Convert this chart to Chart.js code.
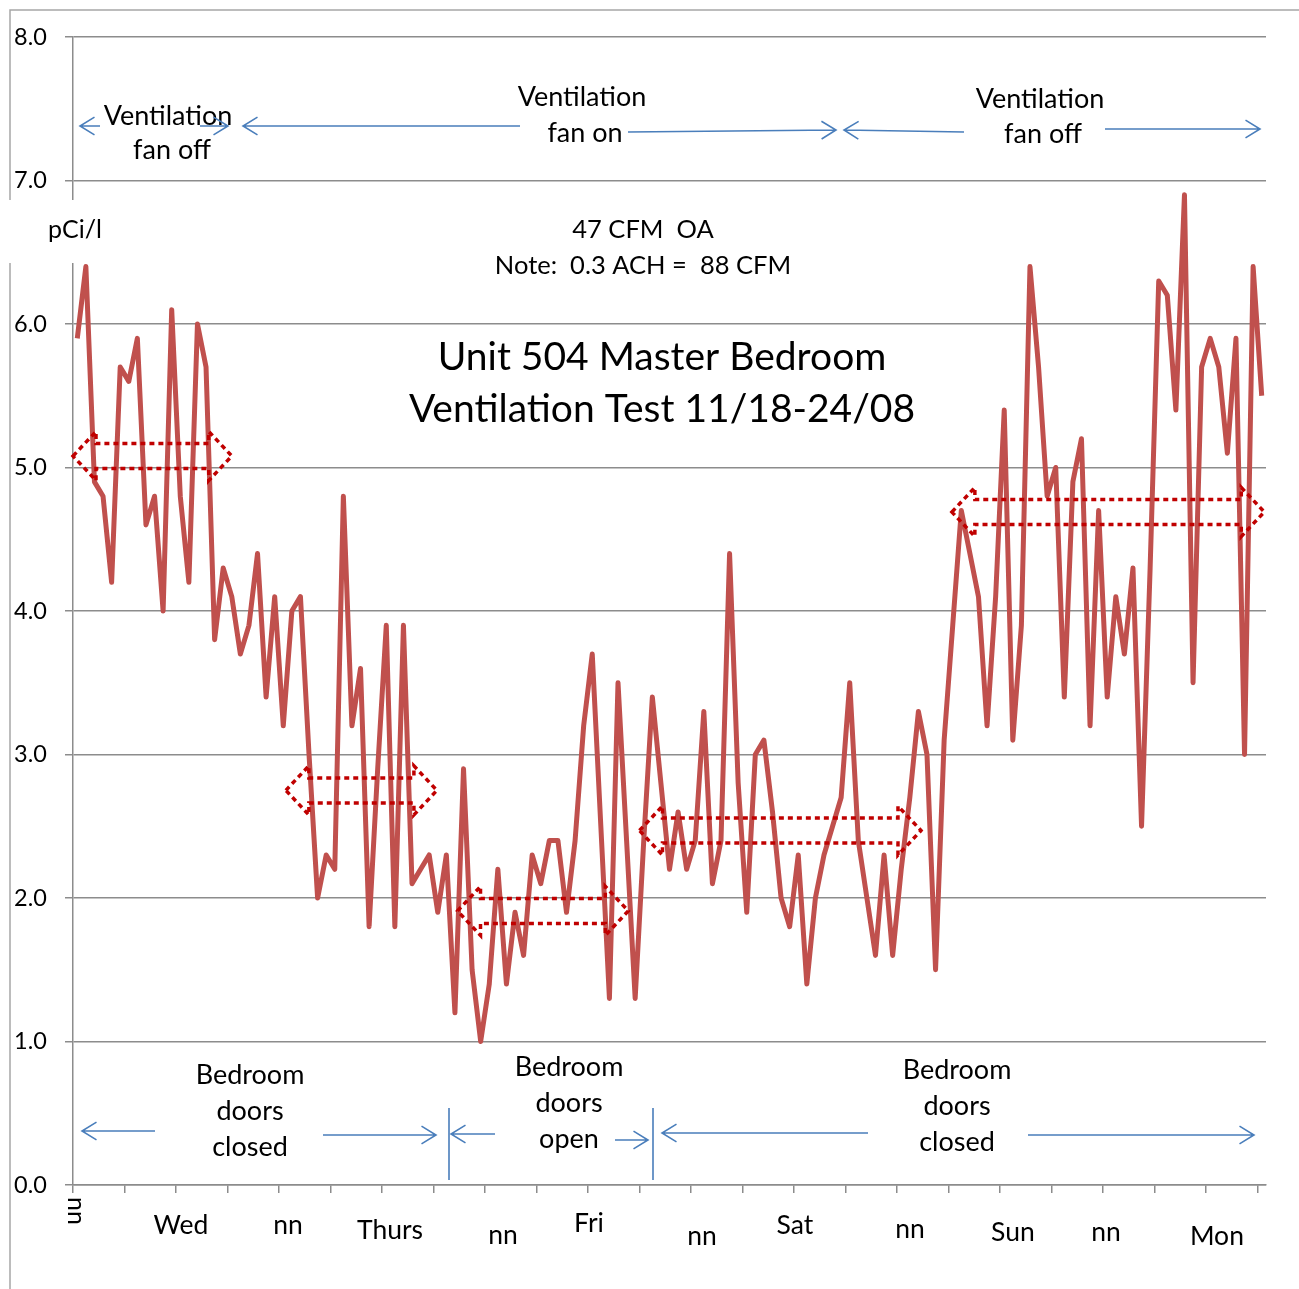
<!DOCTYPE html>
<html>
<head>
<meta charset="utf-8">
<script src="https://cdn.jsdelivr.net/npm/chart.js@4"></script>
<style>
  html, body { margin: 0; padding: 0; background: #fff; }
</style>
</head>
<body>
<canvas id="radon-chart" width="1299" height="1289"></canvas>
<script>
// hourly radon readings, starting Tuesday noon (pCi/l)
const radon = [
  5.9, 6.4, 4.9, 4.8, 4.2, 5.7, 5.6, 5.9, 4.6, 4.8, 4.0, 6.1,
  4.8, 4.2, 6.0, 5.7, 3.8, 4.3, 4.1, 3.7, 3.9, 4.4, 3.4, 4.1,
  3.2, 4.0, 4.1, 3.0, 2.0, 2.3, 2.2, 4.8, 3.2, 3.6, 1.8, 2.9,
  3.9, 1.8, 3.9, 2.1, 2.2, 2.3, 1.9, 2.3, 1.2, 2.9, 1.5, 1.0,
  1.4, 2.2, 1.4, 1.9, 1.6, 2.3, 2.1, 2.4, 2.4, 1.9, 2.4, 3.2,
  3.7, 2.5, 1.3, 3.5, 2.4, 1.3, 2.4, 3.4, 2.8, 2.2, 2.6, 2.2,
  2.4, 3.3, 2.1, 2.4, 4.4, 2.8, 1.9, 3.0, 3.1, 2.6, 2.0, 1.8,
  2.3, 1.4, 2.0, 2.3, 2.5, 2.7, 3.5, 2.4, 2.0, 1.6, 2.3, 1.6,
  2.2, 2.7, 3.3, 3.0, 1.5, 3.1, 3.9, 4.7, 4.4, 4.1, 3.2, 4.1,
  5.4, 3.1, 3.9, 6.4, 5.7, 4.8, 5.0, 3.4, 4.9, 5.2, 3.2, 4.7,
  3.4, 4.1, 3.7, 4.3, 2.5, 4.3, 6.3, 6.2, 5.4, 6.9, 3.5, 5.7,
  5.9, 5.7, 5.1, 5.9, 3.0, 6.4, 5.5
];
const hours = radon.map((v, i) => i);

// labels every 12 hours along the time axis
const dayLabels = ['nn', 'Wed', 'nn', 'Thurs', 'nn', 'Fri', 'nn', 'Sat', 'nn', 'Sun', 'nn', 'Mon'];

// red dotted double arrows: period averages
const periodStart = [-0.5, 24.3, 44.3, 65.5, 101.9];
const periodEnd = [18.0, 41.9, 64.2, 98.3, 138.3];
const periodMean = [5.08, 2.75, 1.91, 2.47, 4.69];

const FONT = 'Lato, "Open Sans", sans-serif';
const BLUE = '#4A7EBB';

function txt(ctx, s, x, y, size) {
  ctx.font = size + 'px ' + FONT;
  ctx.fillText(s, x, y);
}

function blueArrow(ctx, x1, y1, x2, y2) {
  const a = Math.atan2(y2 - y1, x2 - x1);
  ctx.beginPath();
  ctx.moveTo(x1, y1);
  ctx.lineTo(x2, y2);
  ctx.moveTo(x2 - 17 * Math.cos(a - 0.55), y2 - 17 * Math.sin(a - 0.55));
  ctx.lineTo(x2, y2);
  ctx.lineTo(x2 - 17 * Math.cos(a + 0.55), y2 - 17 * Math.sin(a + 0.55));
  ctx.stroke();
}

function blockArrow(ctx, x1, x2, cy) {
  const sh = 12.5, hh = 24.5, hw = 23;
  ctx.beginPath();
  ctx.moveTo(x1, cy);
  ctx.lineTo(x1 + hw, cy - hh);
  ctx.lineTo(x1 + hw, cy - sh);
  ctx.lineTo(x2 - hw, cy - sh);
  ctx.lineTo(x2 - hw, cy - hh);
  ctx.lineTo(x2, cy);
  ctx.lineTo(x2 - hw, cy + hh);
  ctx.lineTo(x2 - hw, cy + sh);
  ctx.lineTo(x1 + hw, cy + sh);
  ctx.lineTo(x1 + hw, cy + hh);
  ctx.closePath();
  ctx.stroke();
}

const overlay = {
  id: 'overlay',
  beforeDraw(chart) {
    const ctx = chart.ctx;
    ctx.save();
    ctx.strokeStyle = '#a6a6a6';
    ctx.lineWidth = 1.5;
    ctx.beginPath();
    ctx.moveTo(10, 1289);
    ctx.lineTo(10, 10);
    ctx.lineTo(1299, 10);
    ctx.stroke();
    ctx.restore();
  },
  afterDraw(chart) {
    const ctx = chart.ctx;
    const x = chart.scales.x, y = chart.scales.y;
    const bin = x.width / radon.length;
    ctx.save();

    // period average arrows
    ctx.strokeStyle = '#C00000';
    ctx.lineWidth = 3.5;
    ctx.setLineDash([5, 4]);
    for (let k = 0; k < periodMean.length; k++) {
      const x1 = x.left + (periodStart[k] + 0.5) * bin;
      const x2 = x.left + (periodEnd[k] + 0.5) * bin;
      blockArrow(ctx, x1, x2, y.getPixelForValue(periodMean[k]));
    }
    ctx.setLineDash([]);

    // units box over the axis
    ctx.fillStyle = '#fff';
    ctx.fillRect(8, 200, 70, 63);

    ctx.fillStyle = '#000';
    ctx.textAlign = 'center';
    ctx.textBaseline = 'middle';
    txt(ctx, 'pCi/l', 75, 230, 25);

    // day labels
    const nudgeX = [0, 5, 9, 8, 18, 1, 11, 1, 13, 13, 3, 11];
    const labelY = [1211, 1225, 1225, 1230, 1235, 1223, 1236, 1225, 1229, 1232, 1232, 1236];
    dayLabels.forEach((s, k) => {
      const px = x.left + 12 * k * bin + nudgeX[k];
      if (k === 0) {
        ctx.save();
        ctx.translate(px + 3, labelY[k]);
        ctx.rotate(Math.PI / 2);
        txt(ctx, s, 0, 0, 25);
        ctx.restore();
      } else {
        txt(ctx, s, px, labelY[k], 26.5);
      }
    });

    // title and notes
    txt(ctx, 'Unit 504 Master Bedroom', 662, 357, 39);
    txt(ctx, 'Ventilation Test 11/18-24/08', 662, 409, 39);
    txt(ctx, '47 CFM  OA', 643, 230, 25.5);
    txt(ctx, 'Note:  0.3 ACH =  88 CFM', 643, 266, 25.5);

    // ventilation fan notes
    const fs = 27;
    txt(ctx, 'Ventilation', 168, 116, fs);
    txt(ctx, 'fan off', 172, 150, fs);
    txt(ctx, 'Ventilation', 582, 97, fs);
    txt(ctx, 'fan on', 585, 133, fs);
    txt(ctx, 'Ventilation', 1040, 99, fs);
    txt(ctx, 'fan off', 1043, 134, fs);

    // bedroom door notes
    txt(ctx, 'Bedroom', 250, 1075, fs);
    txt(ctx, 'doors', 250, 1111, fs);
    txt(ctx, 'closed', 250, 1147, fs);
    txt(ctx, 'Bedroom', 569, 1067, fs);
    txt(ctx, 'doors', 569, 1103, fs);
    txt(ctx, 'open', 569, 1139, fs);
    txt(ctx, 'Bedroom', 957, 1070, fs);
    txt(ctx, 'doors', 957, 1106, fs);
    txt(ctx, 'closed', 957, 1142, fs);

    ctx.strokeStyle = BLUE;
    ctx.lineWidth = 1.6;
    blueArrow(ctx, 100, 126, 80, 126);
    blueArrow(ctx, 200, 126, 228, 126);
    blueArrow(ctx, 520, 126, 243, 126);
    blueArrow(ctx, 628, 132, 836, 130);
    blueArrow(ctx, 964, 132, 844, 130);
    blueArrow(ctx, 1105, 129, 1260, 129);

    blueArrow(ctx, 155, 1131, 82, 1131);
    blueArrow(ctx, 323, 1135, 436, 1135);
    blueArrow(ctx, 495, 1134, 451, 1134);
    blueArrow(ctx, 615, 1140, 648, 1140);
    blueArrow(ctx, 868, 1133, 662, 1133);
    blueArrow(ctx, 1028, 1135, 1254, 1135);
    ctx.beginPath();
    ctx.moveTo(449, 1108); ctx.lineTo(449, 1180);
    ctx.moveTo(653, 1108); ctx.lineTo(653, 1180);
    ctx.stroke();

    ctx.restore();
  }
};

const ctx = document.getElementById('radon-chart').getContext('2d');
window.radonChart = new Chart(ctx, {
  type: 'line',
  data: {
    labels: hours,
    datasets: [{
      data: radon,
      borderColor: '#C0504D',
      borderWidth: 5,
      borderJoinStyle: 'round',
      pointRadius: 0,
      tension: 0,
      fill: false
    }]
  },
  options: {
    responsive: false,
    animation: false,
    devicePixelRatio: 1,
    layout: { padding: { left: 14, top: 37, right: 33, bottom: 0 } },
    plugins: {
      legend: { display: false },
      tooltip: { enabled: false }
    },
    scales: {
      x: {
        type: 'category',
        offset: true,
        afterFit: (scale) => { scale.height = 104; },
        ticks: { display: false },
        border: { color: '#8c8c8c', width: 1.5 },
        grid: {
          offset: true,
          drawOnChartArea: false,
          tickLength: 8,
          lineWidth: 1.5,
          color: (c) => (c.index % 6 === 0 ? '#8c8c8c' : 'rgba(0,0,0,0)')
        }
      },
      y: {
        min: 0,
        max: 8,
        afterFit: (scale) => { scale.width = 59; },
        ticks: {
          stepSize: 1,
          crossAlign: 'far',
          color: '#000',
          font: { family: FONT, size: 23.5 },
          callback: (v) => v.toFixed(1)
        },
        border: { color: '#8c8c8c', width: 1.5 },
        grid: { color: '#8c8c8c', lineWidth: 1.5, tickLength: 8 }
      }
    }
  },
  plugins: [overlay]
});
</script>
</body>
</html>
